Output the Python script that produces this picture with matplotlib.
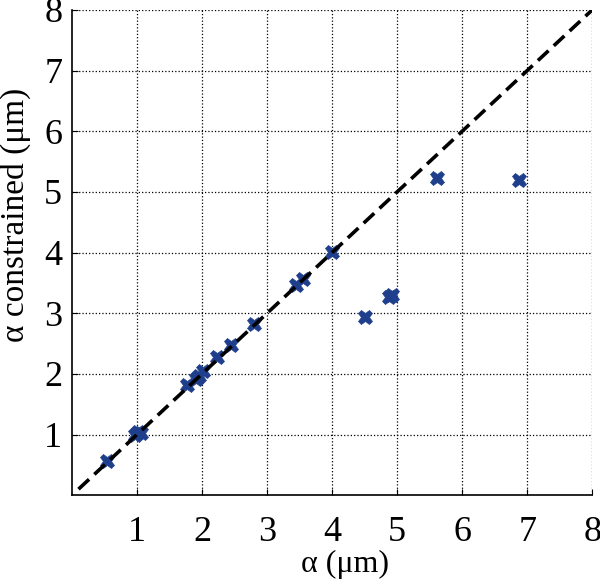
import numpy as np
import matplotlib
matplotlib.use('Agg')
import matplotlib.pyplot as plt

# alpha fitted freely vs. alpha with constraint (um)
alpha_free = [0.54, 0.97, 1.02, 1.06, 1.77, 1.90, 1.96, 2.02, 2.23, 2.44,
              2.80, 3.45, 3.56, 4.00, 4.50, 4.88, 4.92, 5.62, 6.88]
alpha_constrained = [0.57, 0.99, 1.05, 1.03, 1.81, 1.92, 1.97, 2.04, 2.28,
                     2.47, 2.82, 3.46, 3.57, 4.01, 2.93, 3.26, 3.30, 5.23, 5.19]
line_x = [0.1, 8.0]
ticks = [1, 2, 3, 4, 5, 6, 7, 8]

plt.rcParams['font.family'] = ['Liberation Serif', 'DejaVu Serif']

fig = plt.figure(figsize=(6.0, 5.84), dpi=100)
ax = fig.add_axes([0.12, 0.152, 0.867, 0.831])

ax.set_axisbelow(True)
ax.grid(True, linestyle=':', color='black', linewidth=0.9)

ax.plot(alpha_free, alpha_constrained, linestyle='None', marker='X',
        markersize=10.5, color='#1f3f8c', markeredgecolor='#1f3f8c',
        markeredgewidth=0.5, zorder=3)
ax.plot(line_x, line_x, linestyle=(0, (4, 2)), color='black', linewidth=2.6,
        zorder=4)

ax.set_xlim(0, 8)
ax.set_ylim(0, 8)
ax.set_xticks(ticks)
ax.set_yticks(ticks)
ax.tick_params(direction='in', length=4, labelsize=26)
ax.tick_params(axis='x', pad=15)
ax.tick_params(axis='y', pad=7)

ax.spines['top'].set_visible(False)
ax.spines['right'].set_visible(False)
ax.spines['left'].set_linewidth(1.2)
ax.spines['bottom'].set_linewidth(1.2)

ax.set_xlabel('α (μm)', fontsize=23)
ax.set_ylabel('α constrained (μm)', fontsize=24)
ax.xaxis.set_label_coords(0.525, -0.113)
ax.yaxis.set_label_coords(-0.078, 0.577)

fig.savefig('out.png', dpi=100)
